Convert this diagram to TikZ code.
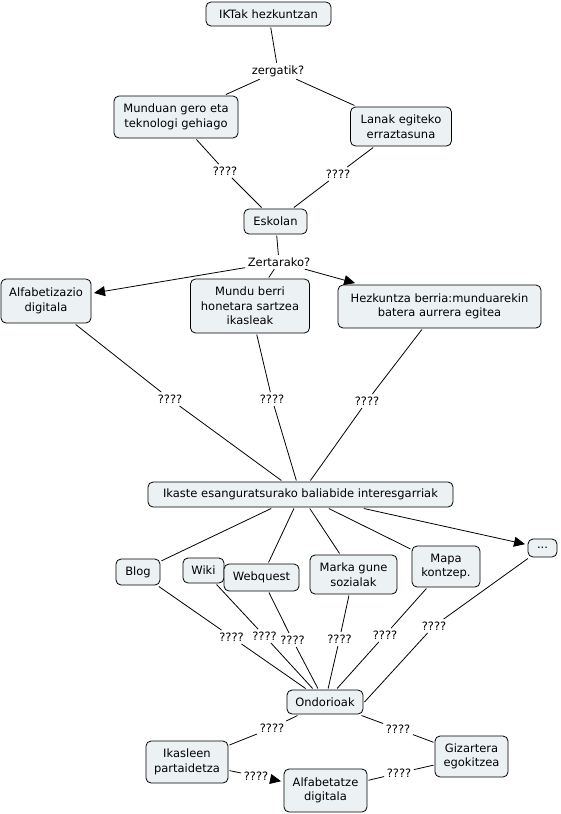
\documentclass[tikz,border=0pt]{standalone}
\usepackage{fontspec}
\setmainfont{DejaVu Sans}
\usetikzlibrary{arrows.meta}
\definecolor{boxfill}{RGB}{236,242,244}
\tikzset{
  box/.style={draw=black, line width=0.8pt, rounded corners=5pt, fill=boxfill,
    align=center, inner sep=0pt, outer sep=1.5pt,
    font=\fontsize{11.5}{14.5}\selectfont},
  lbl/.style={inner sep=2.5pt, font=\fontsize{11.5}{14}\selectfont},
  conn/.style={line width=0.8pt, black},
  arr/.style={conn, -{Triangle[length=11pt,width=10pt]}, shorten >=1.5pt}
}
\begin{document}
\begin{tikzpicture}[x=1pt,y=-1pt]
\useasboundingbox (0,0) rectangle (561,814);
% concepts
\node[box, minimum width=125pt, minimum height=24pt] (ikt) at (268.5,14) {IKTak hezkuntzan};
\node[box, minimum width=124pt, minimum height=42pt] (mund) at (176,117) {Munduan gero eta\\teknologi gehiago};
\node[box, minimum width=101pt, minimum height=39pt] (lanak) at (401,126.5) {Lanak egiteko\\erraztasuna};
\node[box, minimum width=63pt, minimum height=25pt] (esk) at (275.5,221.5) {Eskolan};
\node[box, minimum width=90pt, minimum height=44pt] (alfab) at (46,301) {Alfabetizazio\\digitala};
\node[box, minimum width=119pt, minimum height=54pt] (mberri) at (250,306) {Mundu berri\\honetara sartzea\\ikasleak};
\node[box, minimum width=203pt, minimum height=43pt] (hezk) at (439.5,306.5) {Hezkuntza berria:munduarekin\\batera aurrera egitea};
\node[box, minimum width=305pt, minimum height=25pt] (ikaste) at (300.5,494.5) {Ikaste esanguratsurako baliabide interesgarriak};
\node[box, minimum width=29pt, minimum height=18pt] (dots) at (542.5,548) {...};
\node[box, minimum width=44pt, minimum height=26pt] (blog) at (138,572) {Blog};
\node[box, minimum width=41pt, minimum height=25pt] (wiki) at (203.5,570.5) {Wiki};
\node[box, minimum width=75pt, minimum height=27pt] (webq) at (261.5,577.5) {Webquest};
\node[box, minimum width=87pt, minimum height=39pt] (marka) at (353.5,574.5) {Marka gune\\sozialak};
\node[box, minimum width=68pt, minimum height=41pt] (mapa) at (446,566.5) {Mapa\\kontzep.};
\node[box, minimum width=76pt, minimum height=24pt] (ond) at (325,702) {Ondorioak};
\node[box, minimum width=82pt, minimum height=42pt] (ikas) at (187,762) {Ikasleen\\partaidetza};
\node[box, minimum width=73pt, minimum height=41pt] (giz) at (471.5,756.5) {Gizartera\\egokitzea};
\node[box, minimum width=83pt, minimum height=43pt] (alft) at (325.5,790.5) {Alfabetatze\\digitala};
% linking phrases
\node[lbl] (zerg) at (278,71) {zergatik?};
\node[lbl] (q1) at (225,171) {????};
\node[lbl] (q2) at (338,174) {????};
\node[lbl] (zert) at (279,262) {Zertarako?};
\node[lbl] (q3) at (170,399) {????};
\node[lbl] (q4) at (272,399) {????};
\node[lbl] (q5) at (367,401) {????};
\node[lbl] (q6) at (231.5,637) {????};
\node[lbl] (q7) at (264.5,636) {????};
\node[lbl] (q8) at (292.5,640) {????};
\node[lbl] (q9) at (339.5,639) {????};
\node[lbl] (q10) at (385,635) {????};
\node[lbl] (q11) at (434,626) {????};
\node[lbl] (q12) at (272,728) {????};
\node[lbl] (q13) at (398,729) {????};
\node[lbl] (q14) at (256,776) {????};
\node[lbl] (q15) at (399,773) {????};
% connectors
\draw[conn] (ikt) -- (zerg);
\draw[conn] (zerg) -- (mund);
\draw[conn] (zerg) -- (lanak);
\draw[conn] (mund) -- (q1);
\draw[conn] (q1) -- (esk);
\draw[conn] (lanak) -- (q2);
\draw[conn] (q2) -- (esk);
\draw[conn] (esk) -- (zert);
\draw[arr] (zert) -- (alfab);
\draw[conn] (zert) -- (mberri);
\draw[arr] (zert) -- (hezk);
\draw[conn] (alfab) -- (q3);
\draw[conn] (q3) -- (ikaste);
\draw[conn] (mberri) -- (q4);
\draw[conn] (q4) -- (ikaste);
\draw[conn] (hezk) -- (q5);
\draw[conn] (q5) -- (ikaste);
\draw[conn] (ikaste) -- (blog);
\draw[conn] (ikaste) -- (webq);
\draw[conn] (ikaste) -- (marka);
\draw[conn] (ikaste) -- (mapa);
\draw[arr] (ikaste) -- (dots);
\draw[conn] (blog) -- (q6);
\draw[conn] (q6) -- (ond);
\draw[conn] (wiki) -- (q7);
\draw[conn] (q7) -- (ond);
\draw[conn] (webq) -- (q8);
\draw[conn] (q8) -- (ond);
\draw[conn] (marka) -- (q9);
\draw[conn] (q9) -- (ond);
\draw[conn] (mapa) -- (q10);
\draw[conn] (q10) -- (ond);
\draw[conn] (dots) -- (q11);
\draw[conn] (q11) -- (ond.east);
\draw[conn] (ond) -- (q12);
\draw[conn] (q12) -- (ikas);
\draw[conn] (ond) -- (q13);
\draw[conn] (q13) -- (giz);
\draw[conn] (ikas) -- (q14);
\draw[arr] (q14) -- (alft);
\draw[conn] (giz) -- (q15);
\draw[conn] (q15) -- (alft);
\end{tikzpicture}
\end{document}
